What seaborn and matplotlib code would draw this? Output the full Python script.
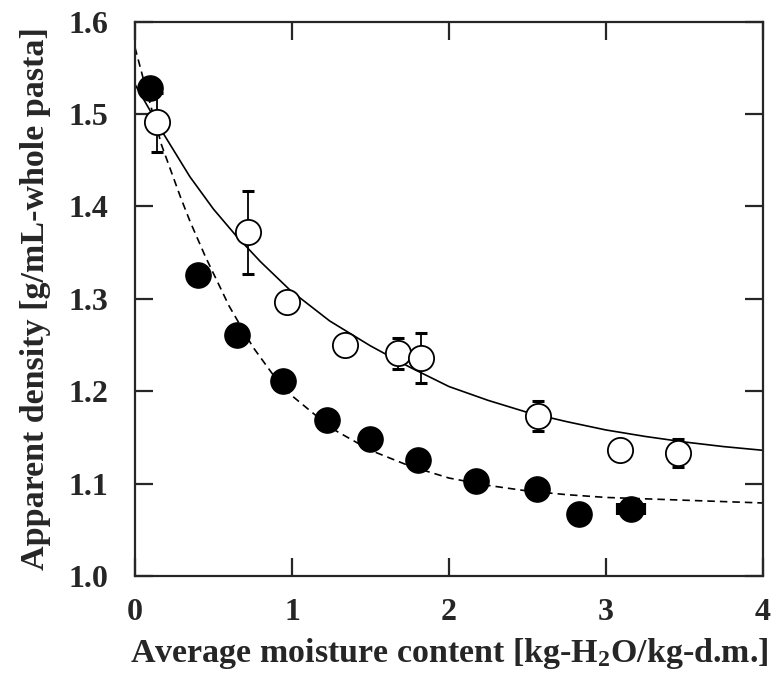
import matplotlib
matplotlib.use("Agg")
import matplotlib.pyplot as plt
import seaborn as sns
import pandas as pd

# ---- data ----
filled_x = [0.095, 0.40, 0.65, 0.94, 1.22, 1.50, 1.80, 2.17, 2.56, 2.83, 3.16]
filled_y = [1.528, 1.326, 1.261, 1.211, 1.169, 1.148, 1.125, 1.103, 1.094, 1.067, 1.072]
filled_xerr = [0, 0, 0, 0, 0, 0, 0, 0, 0, 0, 0.085]

open_x = [0.14, 0.72, 0.97, 1.34, 1.675, 1.82, 2.57, 3.09, 3.46]
open_y = [1.491, 1.372, 1.296, 1.250, 1.241, 1.236, 1.173, 1.136, 1.133]
open_yerr = [0.032, 0.045, 0, 0, 0.017, 0.027, 0.016, 0, 0.015]

solid_x = [0.0, 0.18, 0.35, 0.5, 0.64, 0.8, 0.99, 1.24, 1.5, 1.75, 2.0, 2.25,
           2.5, 2.75, 3.0, 3.25, 3.5, 3.75, 4.0]
solid_y = [1.532, 1.479, 1.432, 1.397, 1.369, 1.340, 1.309, 1.276, 1.249, 1.226,
           1.205, 1.190, 1.177, 1.167, 1.158, 1.151, 1.145, 1.140, 1.136]

dashed_x = [0.0, 0.05, 0.17, 0.29, 0.35, 0.45, 0.6, 0.75, 0.9, 1.0, 1.25, 1.5,
            1.75, 2.0, 2.25, 2.5, 2.75, 3.0, 3.5, 4.0]
dashed_y = [1.572, 1.540, 1.466, 1.410, 1.384, 1.345, 1.292, 1.248, 1.213, 1.195,
            1.160, 1.136, 1.119, 1.106, 1.098, 1.092, 1.088, 1.085, 1.082, 1.079]

x_ticks = [0, 1, 2, 3, 4]
x_ticklabels = ["0", "1", "2", "3", "4"]
y_ticks = [1.0, 1.1, 1.2, 1.3, 1.4, 1.5, 1.6]
y_ticklabels = ["1.0", "1.1", "1.2", "1.3", "1.4", "1.5", "1.6"]

x_label = "Average moisture content [kg-H$_2$O/kg-d.m.]"
y_label = "Apparent density [g/mL-whole pasta]"

# ---- style ----
sns.set_style("ticks")
plt.rcParams['font.family'] = ['Liberation Serif', 'DejaVu Serif']
plt.rcParams['font.weight'] = 'bold'
plt.rcParams['mathtext.fontset'] = 'custom'
plt.rcParams['mathtext.rm'] = 'Liberation Serif:bold'
plt.rcParams['mathtext.it'] = 'Liberation Serif:bold'
plt.rcParams['mathtext.bf'] = 'Liberation Serif:bold'

fig = plt.figure(figsize=(7.77, 6.81), dpi=100)
ax = fig.add_axes([0.1737, 0.1542, 0.8083, 0.8142])

solid_df = pd.DataFrame({"x": solid_x, "y": solid_y})
dashed_df = pd.DataFrame({"x": dashed_x, "y": dashed_y})
filled_df = pd.DataFrame({"x": filled_x, "y": filled_y})
open_df = pd.DataFrame({"x": open_x, "y": open_y})

sns.lineplot(data=solid_df, x="x", y="y", ax=ax, color="black", linewidth=1.2,
             sort=False, estimator=None, zorder=1)
sns.lineplot(data=dashed_df, x="x", y="y", ax=ax, color="black", linewidth=1.2,
             sort=False, estimator=None, zorder=1, linestyle=(0, (4.5, 3)))

ax.errorbar(open_x, open_y, yerr=open_yerr, fmt="none", ecolor="black",
            elinewidth=1.3, capsize=4, capthick=2.2, zorder=2)
ax.errorbar(filled_x, filled_y, xerr=filled_xerr, fmt="none", ecolor="black",
            elinewidth=1.0, capsize=4, capthick=3.0, zorder=2)

sns.scatterplot(data=open_df, x="x", y="y", ax=ax, s=330, color="white",
                edgecolor="black", linewidth=1.3, zorder=3)
sns.scatterplot(data=filled_df, x="x", y="y", ax=ax, s=330, color="black",
                edgecolor="black", linewidth=1.0, zorder=4)

ax.set_xlim(0, 4)
ax.set_ylim(1.0, 1.6)
ax.set_xticks(x_ticks)
ax.set_xticklabels(x_ticklabels)
ax.set_yticks(y_ticks)
ax.set_yticklabels(y_ticklabels)

ax.tick_params(axis="both", direction="in", length=13, width=1.6,
               top=True, right=True, labelsize=23)
ax.tick_params(axis="x", pad=16)
ax.tick_params(axis="y", pad=19)
for lab in ax.get_xticklabels() + ax.get_yticklabels():
    lab.set_fontweight("bold")

for sp in ax.spines.values():
    sp.set_linewidth(1.6)
    sp.set_visible(True)

ax.set_xlabel(x_label, fontsize=24.5, fontweight="bold", labelpad=6)
ax.set_ylabel(y_label, fontsize=24.5, fontweight="bold", labelpad=13)

fig.savefig("out.png", dpi=100)
